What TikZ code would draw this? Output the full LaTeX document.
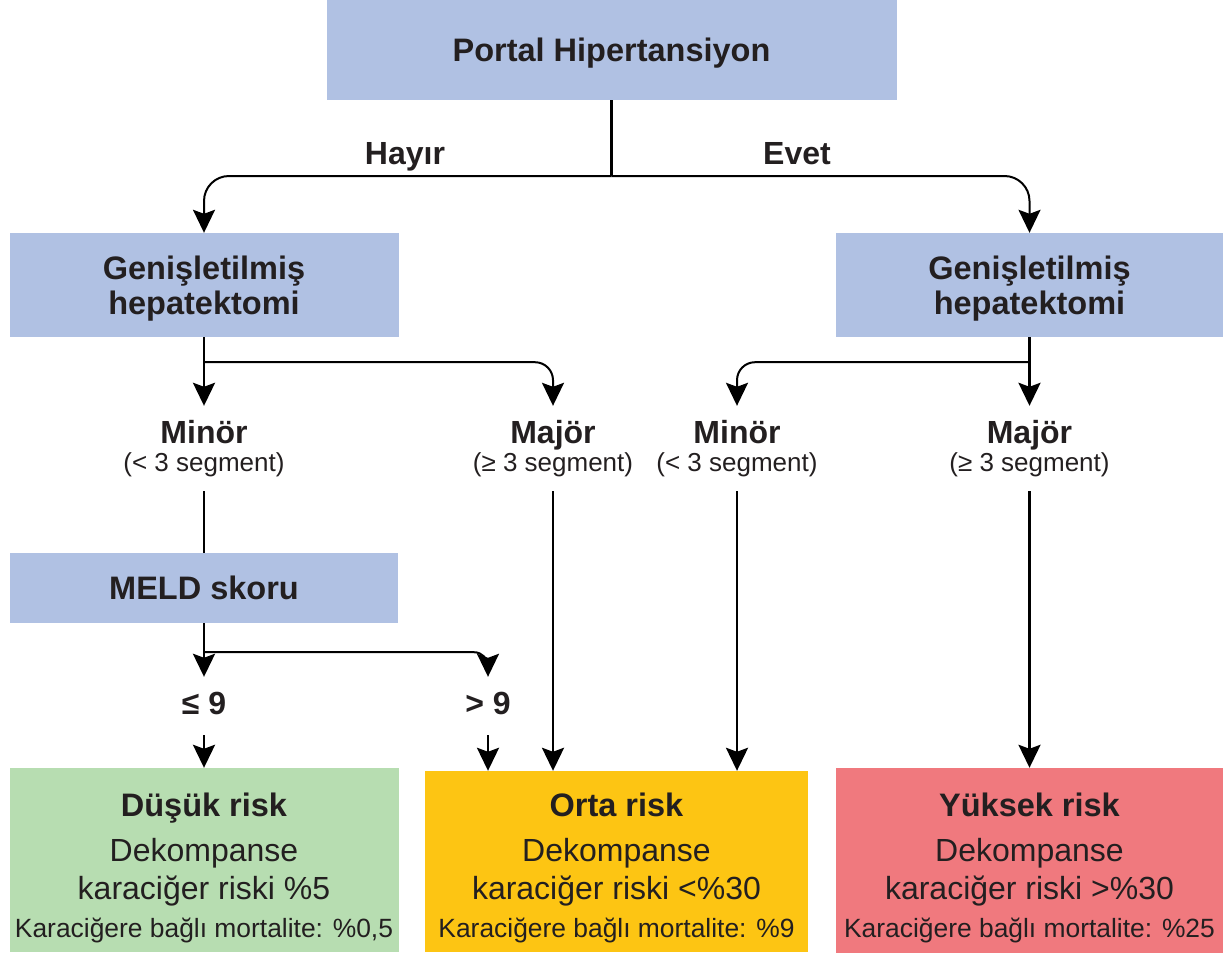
\documentclass[tikz,border=0pt]{standalone}
\usepackage{fontspec}
\setmainfont{Liberation Sans}
\usetikzlibrary{arrows.meta, positioning, calc}

\definecolor{boxblue}{HTML}{B0C1E3}
\definecolor{lowgreen}{HTML}{B7DDB1}
\definecolor{midyellow}{HTML}{FDC513}
\definecolor{highred}{HTML}{F0797E}
\definecolor{inkgray}{HTML}{231F20}

\tikzset{
  stepbox/.style={fill=boxblue, inner sep=0pt, align=center, text=inkgray, text depth=0pt,
    font=\fontsize{32.5}{35}\selectfont\bfseries},
  riskbox/.style={inner sep=0pt},
  lbl/.style={anchor=base, text=inkgray, inner xsep=2pt, inner ysep=14pt,
    text height=23pt, text depth=7pt, font=\fontsize{32}{35}\selectfont\bfseries},
  seglbl/.style={anchor=base, text=inkgray, inner xsep=2pt, inner ysep=14pt,
    text height=19pt, text depth=6pt, font=\fontsize{26}{30}\selectfont},
  risktitle/.style={anchor=base, text=inkgray, inner sep=0pt,
    font=\fontsize{32.5}{36}\selectfont\bfseries},
  riskline/.style={anchor=base, text=inkgray, inner sep=0pt,
    font=\fontsize{32}{36}\selectfont},
  risknote/.style={anchor=base, text=inkgray, inner sep=0pt,
    font=\fontsize{26.4}{30}\selectfont},
  conn/.style={draw=black, line width=2.8pt},
  branch/.style={draw=black, line width=2pt, rounded corners=18pt},
  arr/.style={-{Stealth[width=22pt, length=23pt, inset=4pt]}}
}

\begin{document}
\begin{tikzpicture}[x=1pt, y=-1pt]
  \useasboundingbox (0,0) rectangle (1223,956);

  % Blue decision boxes
  \node[stepbox, minimum width=570pt, minimum height=100pt] (portal) at (611.5,50) {Portal Hipertansiyon};
  \node[stepbox, minimum width=389pt, minimum height=104pt] (genL) at (204,285) {Genişletilmiş\\hepatektomi};
  \node[stepbox, minimum width=387pt, minimum height=104pt] (genR) at (1029.5,285) {Genişletilmiş\\hepatektomi};
  \node[stepbox, minimum width=388pt, minimum height=70pt] (meld) at (204,588) {MELD skoru};

  % Risk boxes
  \node[riskbox, fill=lowgreen, minimum width=389pt, minimum height=184pt] (dusuk) at (204,860) {};
  \node[riskbox, fill=midyellow, minimum width=383pt, minimum height=181pt] (orta) at (616.5,861.5) {};
  \node[riskbox, fill=highred, minimum width=387pt, minimum height=185pt] (yuksek) at (1029.5,860.5) {};

  % Branch labels
  \node[lbl] (hayir) at (405,164) {Hayır};
  \node[lbl] (evet) at (797,164) {Evet};
  \node[lbl] (minL) at (204,443) {Minör};
  \node[seglbl] (minLs) at (204,471) {(< 3 segment)};
  \node[lbl] (majL) at (553,443) {Majör};
  \node[seglbl] (majLs) at (553,471) {(≥ 3 segment)};
  \node[lbl] (minR) at (737,443) {Minör};
  \node[seglbl] (minRs) at (737,471) {(< 3 segment)};
  \node[lbl] (majR) at (1029.5,443) {Majör};
  \node[seglbl] (majRs) at (1029.5,471) {(≥ 3 segment)};
  \node[lbl] (le9) at (204,714) {≤ 9};
  \node[lbl] (gt9) at (488,714) {> 9};

  % Risk texts
  \node[risktitle] (dusukT) at (204,816) {Düşük risk};
  \node[riskline] (dusukA) at (204,861) {Dekompanse};
  \node[riskline] (dusukB) at (204,899) {karaciğer riski \%5};
  \node[risknote] (dusukC) at (204,937) {Karaciğere bağlı mortalite: \%0,5};
  \node[risktitle] (ortaT) at (616.5,816) {Orta risk};
  \node[riskline] (ortaA) at (616.5,861) {Dekompanse};
  \node[riskline] (ortaB) at (616.5,899) {karaciğer riski <\%30};
  \node[risknote] (ortaC) at (616.5,937) {Karaciğere bağlı mortalite: \%9};
  \node[risktitle] (yuksekT) at (1029.5,816) {Yüksek risk};
  \node[riskline] (yuksekA) at (1029.5,861) {Dekompanse};
  \node[riskline] (yuksekB) at (1029.5,899) {karaciğer riski >\%30};
  \node[risknote] (yuksekC) at (1029.5,937) {Karaciğere bağlı mortalite: \%25};

  % Portal split
  \coordinate (topsplit) at (611.5,176);
  \draw[conn] (portal.south) -- (topsplit);
  \draw[branch, rounded corners=25pt, arr] (topsplit) -| (genL.north);
  \draw[branch, rounded corners=25pt, arr] (topsplit) -| (genR.north);

  % Left hepatectomy
  \coordinate (splitL) at ([yshift=-25pt]genL.south);
  \draw[conn, arr] (genL.south) -- (minL.north);
  \draw[branch, arr] (splitL) -| (majL.north);

  % Right hepatectomy
  \coordinate (splitR) at ([yshift=-25pt]genR.south);
  \draw[conn, arr] (genR.south) -- (majR.north);
  \draw[branch, arr] (splitR) -| (minR.north);

  % MELD score
  \draw[conn] (minLs.south) -- (meld.north);
  \coordinate (splitM) at ([yshift=-29pt]meld.south);
  \draw[conn, arr] (meld.south) -- (le9.north);
  \draw[branch, rounded corners=14pt, arr] (splitM) -| (gt9.north);

  % Into the risk boxes
  \draw[conn, arr] (le9.south) -- (dusuk.north);
  \draw[conn, arr] (gt9.south) -- (gt9.south |- orta.north);
  \draw[conn, arr] (majLs.south) -- (majLs.south |- orta.north);
  \draw[conn, arr] (minRs.south) -- (minRs.south |- orta.north);
  \draw[conn, arr] (majRs.south) -- (majRs.south |- yuksek.north);
\end{tikzpicture}
\end{document}
